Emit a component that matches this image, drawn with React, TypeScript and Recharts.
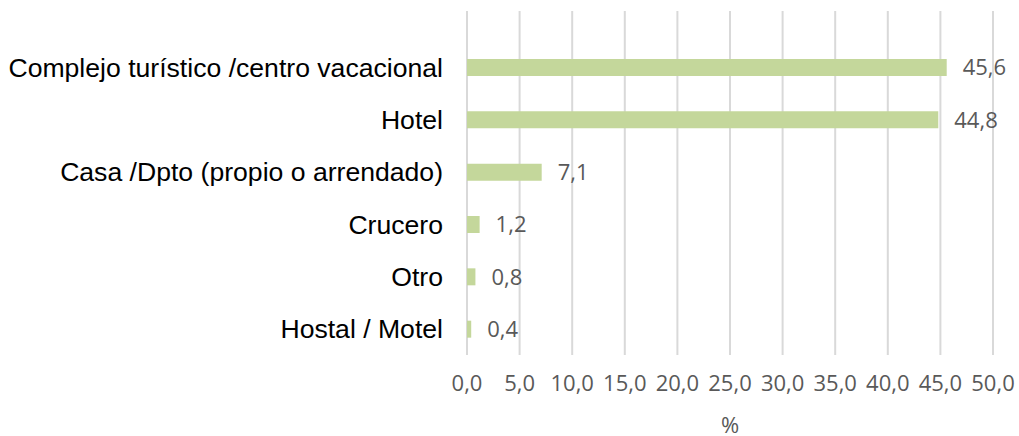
import React from 'react';
import { BarChart, Bar, XAxis, YAxis, CartesianGrid, LabelList } from 'recharts';

const categories = [
  'Complejo turístico /centro vacacional',
  'Hotel',
  'Casa /Dpto (propio o arrendado)',
  'Crucero',
  'Otro',
  'Hostal / Motel',
];
const values = [45.6, 44.8, 7.1, 1.2, 0.8, 0.4];
const xTicks = [0, 5, 10, 15, 20, 25, 30, 35, 40, 45, 50];
const axisTitle = '%';

const data = categories.map((c, i) => ({ name: c, value: values[i] }));
const fmt = (v: number) => v.toFixed(1).replace('.', ',');

export default function App() {
  return (
    <div style={{ position: 'absolute', left: 0, top: 0, background: '#fff' }}>
      <BarChart
        width={1019}
        height={436}
        data={data}
        layout="vertical"
        margin={{ top: 11, right: 26, bottom: 0, left: 0 }}
      >
        <CartesianGrid horizontal={false} stroke="#D9D9D9" strokeWidth={2} />
        <XAxis
          type="number"
          domain={[0, 50]}
          ticks={xTicks}
          interval={0}
          tickFormatter={fmt}
          axisLine={false}
          tickLine={false}
          tickSize={0}
          tickMargin={20}
          height={81}
          tick={{ fill: '#595959', fontSize: 22, fontFamily: 'Open Sans' }}
          label={{ value: axisTitle, position: 'insideBottom', offset: 3, fill: '#595959', fontSize: 22, fontFamily: 'Open Sans' }}
        />
        <YAxis
          type="category"
          dataKey="name"
          width={467}
          axisLine={false}
          tickLine={false}
          tickSize={0}
          tickMargin={24}
          padding={{ top: 30, bottom: 0 }}
          interval={0}
          tick={{ fill: '#000', fontSize: 26.6, fontFamily: 'Liberation Sans' }}
        />
        <Bar dataKey="value" fill="#C4D79B" barSize={17} isAnimationActive={false}>
          <LabelList
            dataKey="value"
            position="right"
            offset={16}
            formatter={(v: any) => fmt(Number(v))}
            style={{ fill: '#595959', fontSize: 22, fontFamily: 'Open Sans' }}
          />
        </Bar>
      </BarChart>
    </div>
  );
}
